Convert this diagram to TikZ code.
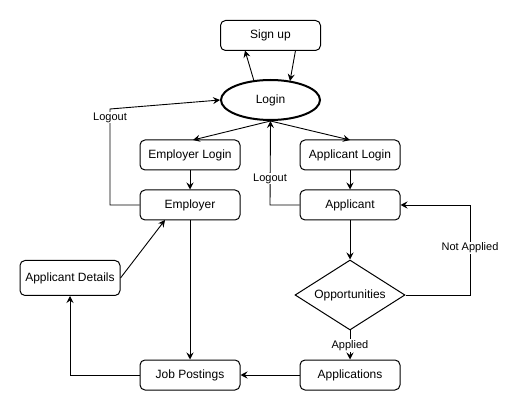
\documentclass[tikz,border=0pt]{standalone}
\usepackage{fontspec}
\setmainfont{Liberation Sans}
\usetikzlibrary{arrows.meta,shapes.geometric}
\begin{document}
\begin{tikzpicture}[x=1pt,y=-1pt,
  box/.style={draw,line width=1pt,rounded corners=5pt,minimum width=100pt,minimum height=30pt,inner sep=0pt,font=\fontsize{12}{14}\selectfont},
  conn/.style={draw,line width=0.9pt,-{Stealth[length=7pt,width=7pt,inset=2.5pt]}},
  lbl/.style={fill=white,inner sep=1pt,font=\fontsize{11}{13}\selectfont}]
\useasboundingbox[fill=white] (0,0) rectangle (519,411);
\node[box] (signup) at (270.5,35.5) {Sign up};
\node[draw,ellipse,line width=2pt,minimum width=99pt,minimum height=40pt,inner sep=0pt,font=\fontsize{12}{14}\selectfont] (login) at (270.5,100) {Login};
\node[box] (emplogin) at (190,155) {Employer Login};
\node[box] (applogin) at (350,155) {Applicant Login};
\node[box] (emp) at (190,205) {Employer};
\node[box] (app) at (350,205) {Applicant};
\node[box,minimum height=35pt] (appdet) at (70,278) {Applicant Details};
\node[draw,diamond,aspect=1.571,line width=1pt,minimum width=110pt,minimum height=70pt,inner sep=0pt] (opp) at (350,295) {};
\node[font=\fontsize{12}{14}\selectfont] (opptxt) at (350,295) {Opportunities};
\node[box] (jobs) at (190,375) {Job Postings};
\node[box] (apps) at (350,375) {Applications};
\coordinate (s1) at (254,81);
\coordinate (s2) at (245,50.5);
\coordinate (s3) at (295.5,50.5);
\coordinate (s4) at (290,81);
\coordinate (el) at (193,140);
\coordinate (al) at (350,140);
\coordinate (c1) at (110,205);
\coordinate (c2) at (110,109);
\coordinate (c3) at (270,205);
\coordinate (c4) at (470,295);
\coordinate (c5) at (470,205);
\coordinate (c6) at (70,375);
\coordinate (ee) at (165,220);
% login <-> signup
\draw[conn] (s1) -- (s2);
\draw[conn] (s3) -- (s4);
% login to logins
\draw[conn] (login.south) -- (el);
\draw[conn] (login.south) -- (al);
\draw[conn] (emplogin) -- (emp);
\draw[conn] (applogin) -- (app);
% logouts
\draw[conn] (emp.west) -- (c1) -- (c2) -- (login.west);
\node[lbl] (lo1) at (110,117.5) {Logout};
\draw[conn] (app.west) -- (c3) -- (login.south);
\node[lbl] (lo2) at (270,178.5) {Logout};
% applicant flow
\draw[conn] (app.south) -- (opp.north);
\draw[conn] (opp.east) -- (c4) -- (c5) -- (app.east);
\node[lbl] (na) at (470,248) {Not Applied};
\draw[conn] (opp.south) -- (apps.north);
\node[lbl] (ap) at (350,345.5) {Applied};
\draw[conn] (apps.west) -- (jobs.east);
\draw[conn] (emp.south) -- (jobs.north);
\draw[conn] (jobs.west) -- (c6) -- (appdet.south);
\draw[conn] (appdet.east) -- (ee);
\end{tikzpicture}
\end{document}
